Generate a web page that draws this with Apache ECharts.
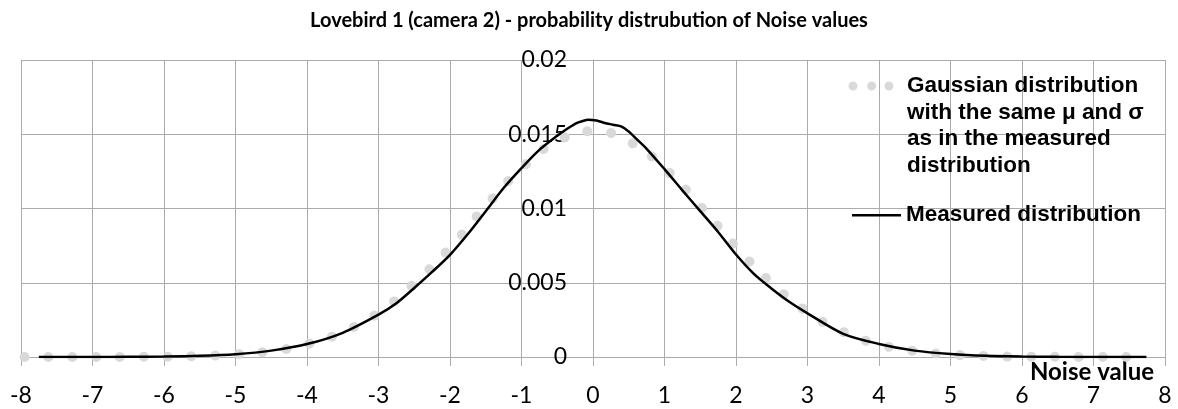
<!DOCTYPE html>
<html>
<head>
<meta charset="utf-8">
<script src="https://cdn.jsdelivr.net/npm/echarts@6/dist/echarts.min.js"></script>
<style>
  html, body { margin: 0; padding: 0; background: #fff; }
  #chart { width: 1178px; height: 409px; }
</style>
</head>
<body>
<div id="chart"></div>
<script>
// 高斯分布（灰色圆点线）
const gaussX = [-7.95, -7.5, -7, -6.5, -6, -5.5, -5, -4.5, -4, -3.5, -3, -2.5, -2, -1.5, -1, -0.5, 0,
    0.5, 1, 1.5, 2, 2.5, 3, 3.5, 4, 4.5, 5, 5.5, 6, 6.5, 7, 7.5, 7.75];
const gaussY = [0, 0, 0, 0.00001, 0.00002, 0.00007, 0.00017, 0.0004, 0.00086, 0.00169, 0.00298, 0.00496, 0.00735, 0.01016, 0.01271, 0.01453, 0.0152,
    0.01453, 0.01271, 0.01016, 0.00742, 0.00496, 0.00303, 0.00169, 0.00086, 0.0004, 0.00017, 0.00007, 0.00002, 0.00001, 0, 0, 0];

// 实测分布（黑线）
const measX = [-7.75, -7, -6.5, -6, -5.5, -5, -4.5, -4, -3.5, -3, -2.75, -2.5, -2.25, -2, -1.75, -1.5, -1.25, -1, -0.75, -0.5,
    -0.35, -0.23, -0.15, -0.07, 0.05, 0.15, 0.28, 0.4, 0.5, 0.6, 0.75, 1, 1.25, 1.5, 1.75, 2, 2.25, 2.5, 2.75, 3,
    3.5, 4, 4.5, 5, 5.5, 6, 6.5, 7, 7.74];
const measY = [0, 0.000004, 0.00001, 0.00003, 0.00008, 0.00019, 0.00043, 0.00087, 0.00163, 0.00285, 0.00362, 0.00465, 0.00573, 0.00688, 0.00828, 0.00982, 0.01138, 0.01272, 0.01395, 0.0149,
    0.0154, 0.01575, 0.01588, 0.01598, 0.01592, 0.01578, 0.01564, 0.01552, 0.01518, 0.01472, 0.01402, 0.01265, 0.01122, 0.00982, 0.00842, 0.0069, 0.0056, 0.0046, 0.0037, 0.00294,
    0.00156, 0.00088, 0.00043, 0.0002, 0.00008, 0.00003, 0.00001, 0.000004, 0];

const gaussName = "Gaussian distribution\nwith the same μ and σ\nas in the measured\ndistribution";
const measName = "Measured distribution";

(function () {
    let myChart = echarts.init(document.getElementById("chart"));
    const gridColor = "#ababab";
    const legendText = {
        fontFamily: "Liberation Sans",
        fontWeight: "bold",
        fontSize: 22.5,
        lineHeight: 26.5,
        color: "#000"
    };
    let option = {
        animation: false,
        title: {
            text: "Lovebird 1 (camera 2) - probability distrubution of Noise values",
            left: "center",
            top: 6,
            textStyle: {
                fontFamily: "Lato",
                fontWeight: "bold",
                fontSize: 20,
                color: "#000"
            }
        },
        legend: [
            {
                // 图例：三个圆点在第一行
                data: [gaussName],
                left: 848,
                top: 73,
                padding: 0,
                itemWidth: 54,
                itemHeight: 106,
                icon: "path://M0,0M54,106M0.5,13a4.5,4.5 0 1,0 9,0a4.5,4.5 0 1,0 -9,0M19.2,13a4.5,4.5 0 1,0 9,0a4.5,4.5 0 1,0 -9,0M36.5,13a4.5,4.5 0 1,0 9,0a4.5,4.5 0 1,0 -9,0",
                itemStyle: { color: "#d9d9d9", borderWidth: 0 },
                textStyle: legendText,
                selectedMode: false
            },
            {
                data: [measName],
                left: 852,
                top: 202,
                padding: 0,
                itemWidth: 49,
                itemHeight: 2.6,
                icon: "path://M0,0L49,0L49,2.6L0,2.6Z",
                itemStyle: { color: "#000", borderWidth: 0 },
                textStyle: legendText,
                selectedMode: false
            }
        ],
        grid: {
            left: 21,
            right: 13,
            top: 60,
            bottom: 52,
            containLabel: false,
            outerBoundsMode: "none"
        },
        xAxis: {
            type: "value",
            min: -8,
            max: 8,
            interval: 1,
            name: "Noise value",
            nameLocation: "end",
            nameGap: -11,
            nameMoveOverlap: false,
            nameTextStyle: {
                fontFamily: "Lato",
                fontWeight: "bold",
                fontSize: 24,
                color: "#000",
                align: "right",
                verticalAlign: "top",
                padding: [3, 0, 0, 0]
            },
            axisLine: { onZero: false, lineStyle: { color: gridColor, width: 1 } },
            axisTick: { show: true, length: 9, lineStyle: { color: gridColor } },
            axisLabel: {
                fontFamily: "Lato",
                fontSize: 23,
                color: "#000",
                margin: 27
            },
            splitLine: { show: true, lineStyle: { color: gridColor, width: 1 } }
        },
        yAxis: {
            type: "value",
            min: 0,
            max: 0.02,
            interval: 0.005,
            position: "left",
            offset: -572,
            axisLine: { show: true, onZero: false, lineStyle: { color: gridColor, width: 1 } },
            axisTick: { show: false },
            axisLabel: {
                fontFamily: "Lato",
                fontSize: 23,
                color: "#000",
                margin: 26
            },
            splitLine: { show: true, lineStyle: { color: gridColor, width: 1 } }
        },
        series: [
            {
                name: gaussName,
                type: "line",
                data: gaussX.map((x, i) => [x, gaussY[i]]),
                smooth: true,
                showSymbol: false,
                color: "#d9d9d9",
                z: 2,
                lineStyle: {
                    color: "#d9d9d9",
                    width: 10,
                    type: [0.01, 23.8],
                    cap: "round"
                }
            },
            {
                name: measName,
                type: "line",
                data: measX.map((x, i) => [x, measY[i]]),
                smooth: 0.3,
                showSymbol: false,
                color: "#000",
                z: 3,
                lineStyle: { color: "#000", width: 2.5 }
            }
        ]
    };
    myChart.setOption(option);
    window.addEventListener("resize", function () {
        myChart.resize();
    });
})();
</script>
</body>
</html>
